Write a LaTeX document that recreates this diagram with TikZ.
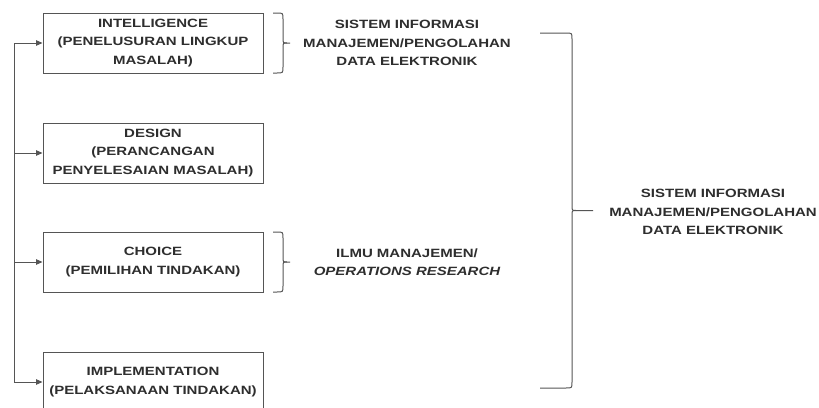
\documentclass[tikz,border=0pt]{standalone}
\usepackage{fontspec}
\usetikzlibrary{arrows.meta}
\newfontfamily\dfont[FakeStretch=1.25]{Liberation Sans}
\definecolor{linec}{HTML}{555555}
\definecolor{textc}{HTML}{2E2E2E}
\newcommand{\curlyb}[5]{% left x, vertical x, tip x, top y, bottom y
  \draw[bracel] (#1,#4) -- ({#2-6},#4) .. controls (#2,#4) .. (#2,{#4+6})
    -- (#2,{(#4+#5)/2-5}) .. controls (#2,{(#4+#5)/2}) .. ({#2+4},{(#4+#5)/2}) -- (#3,{(#4+#5)/2});
  \draw[bracel] (#1,#5) -- ({#2-6},#5) .. controls (#2,#5) .. (#2,{#5-6})
    -- (#2,{(#4+#5)/2+5}) .. controls (#2,{(#4+#5)/2}) .. ({#2+4},{(#4+#5)/2});
}
\begin{document}
\begin{tikzpicture}[x=1pt,y=-1pt,
  txt/.style={font=\dfont\bfseries\fontsize{12}{18.5}\selectfont, text=textc, align=center, inner sep=0pt},
  stage/.style={txt, draw=linec, line width=1pt, minimum width=220pt, minimum height=60pt},
  bracel/.style={draw=linec, line width=1pt},
  conn/.style={draw=linec, line width=1pt},
  arr/.style={conn, -{Triangle[length=6.5pt,width=5.5pt]}}]
\useasboundingbox (0,0) rectangle (819,407);
\clip (0,0) rectangle (819,407);
\fill[white] (0,0) rectangle (819,407);

\node[stage] (b1) at (153,43) {INTELLIGENCE\\(PENELUSURAN LINGKUP\\MASALAH)};
\node[stage] (b2) at (153,153) {DESIGN\\(PERANCANGAN\\PENYELESAIAN MASALAH)};
\node[stage] (b3) at (153,262) {CHOICE\\(PEMILIHAN TINDAKAN)};
\node[stage] (b4) at (153,382) {IMPLEMENTATION\\(PELAKSANAAN TINDAKAN)};

\coordinate (j1) at (14,43);
\coordinate (j2) at (14,153);
\coordinate (j3) at (14,262);
\coordinate (j4) at (14,382);
\draw[conn] (j1) -- (j4);
\draw[arr] (j1) -- (b1.west);
\draw[arr] (j2) -- (b2.west);
\draw[arr] (j3) -- (b3.west);
\draw[arr] (j4) -- (b4.west);

\curlyb{273}{283}{290}{13}{73}
\curlyb{273}{283}{290}{232}{292}
\curlyb{540}{572}{593}{33}{388}

\node[txt] (t1) at (407,43) {SISTEM INFORMASI\\MANAJEMEN/PENGOLAHAN\\DATA ELEKTRONIK};
\node[txt] (t2) at (407,262) {ILMU MANAJEMEN/\\\itshape OPERATIONS RESEARCH};
\node[txt] (t3) at (713,212) {SISTEM INFORMASI\\MANAJEMEN/PENGOLAHAN\\DATA ELEKTRONIK};
\end{tikzpicture}
\end{document}
